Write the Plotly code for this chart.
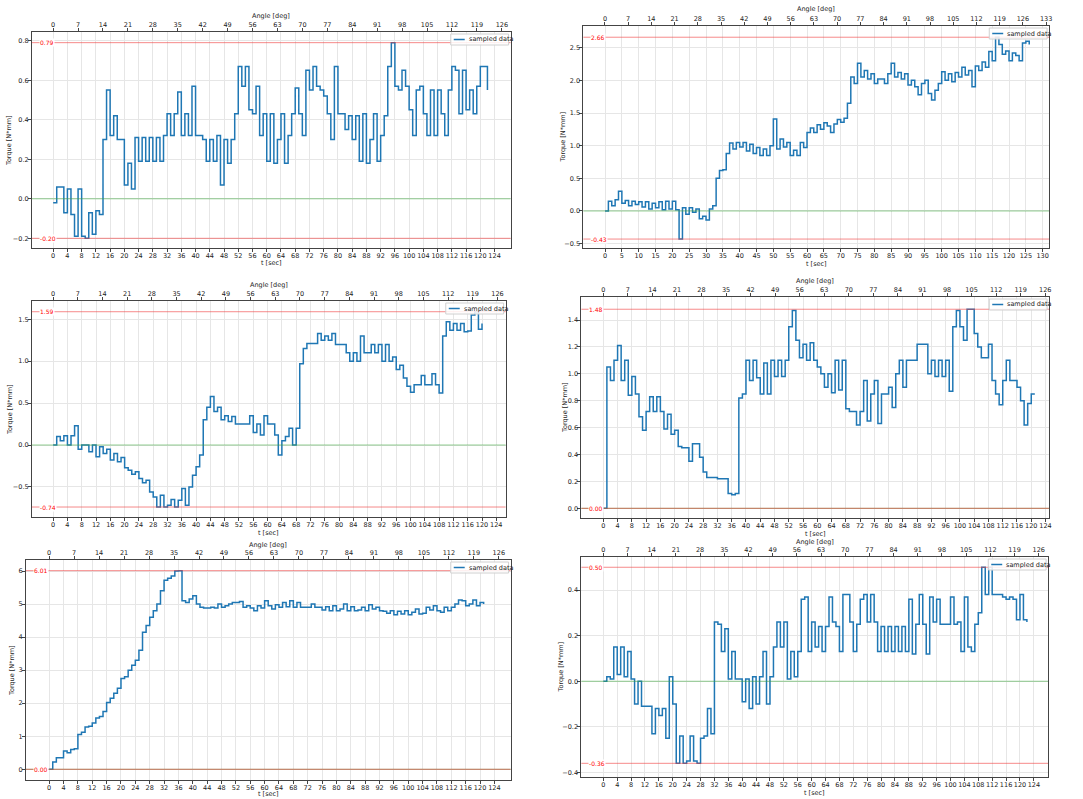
import plotly.graph_objects as go

W, H = 1083, 799

# Torque samples, one per second, for the six test runs
torque_1 = [-0.02, 0.06, 0.06, -0.07, 0.05, -0.08, -0.19, 0.05, -0.19, -0.20,
            -0.07, -0.18, -0.06, -0.08, 0.30, 0.55, 0.32, 0.42, 0.30, 0.30,
            0.07, 0.18, 0.05, 0.31, 0.19, 0.31, 0.19, 0.31, 0.19, 0.31,
            0.19, 0.32, 0.43, 0.32, 0.43, 0.54, 0.32, 0.43, 0.32, 0.57,
            0.32, 0.32, 0.30, 0.19, 0.30, 0.19, 0.32, 0.07, 0.30, 0.18,
            0.30, 0.43, 0.67, 0.57, 0.67, 0.45, 0.43, 0.57, 0.32, 0.43,
            0.19, 0.43, 0.18, 0.30, 0.43, 0.18, 0.32, 0.43, 0.56, 0.43,
            0.32, 0.65, 0.55, 0.67, 0.57, 0.55, 0.52, 0.43, 0.30, 0.67,
            0.43, 0.43, 0.35, 0.42, 0.30, 0.42, 0.19, 0.43, 0.18, 0.30,
            0.43, 0.19, 0.32, 0.42, 0.67, 0.79, 0.57, 0.55, 0.65, 0.57,
            0.45, 0.32, 0.55, 0.57, 0.43, 0.32, 0.55, 0.32, 0.55, 0.43,
            0.32, 0.55, 0.67, 0.65, 0.43, 0.65, 0.45, 0.55, 0.43, 0.57,
            0.67, 0.67, 0.55]

torque_2 = [0.00, 0.15, 0.08, 0.17, 0.30, 0.12, 0.16, 0.08, 0.15, 0.10,
            0.14, 0.06, 0.14, 0.03, 0.12, 0.05, 0.14, 0.02, 0.15, 0.03,
            0.15, 0.02, -0.43, 0.05, -0.05, 0.05, -0.02, 0.03, -0.12, -0.08,
            -0.14, 0.03, 0.08, 0.50, 0.62, 0.63, 0.88, 1.04, 0.95, 1.05,
            0.98, 1.05, 0.92, 1.02, 0.88, 0.97, 0.85, 0.95, 0.85, 1.00,
            1.41, 0.95, 1.10, 0.98, 1.05, 0.85, 0.93, 0.85, 1.05, 0.97,
            1.20, 1.27, 1.20, 1.32, 1.25, 1.35, 1.30, 1.20, 1.33, 1.40,
            1.36, 1.42, 1.65, 2.05, 1.95, 2.26, 2.05, 2.15, 2.02, 2.10,
            1.95, 2.02, 2.02, 1.95, 2.10, 2.26, 2.05, 2.12, 2.02, 2.10,
            1.93, 2.00, 1.90, 1.78, 1.95, 2.00, 1.80, 1.70, 1.85, 1.95,
            2.13, 2.00, 2.10, 1.98, 2.12, 2.05, 2.20, 2.08, 2.15, 1.90,
            2.22, 2.15, 2.28, 2.20, 2.44, 2.30, 2.66, 2.55, 2.40, 2.45,
            2.30, 2.42, 2.38, 2.30, 2.57, 2.60, 2.55]

torque_3 = [0.00, 0.10, 0.05, 0.11, 0.00, 0.11, 0.23, -0.05, 0.00, 0.00,
            -0.08, 0.00, -0.14, -0.02, -0.10, -0.05, -0.18, -0.10, -0.20, -0.15,
            -0.27, -0.30, -0.35, -0.32, -0.40, -0.45, -0.42, -0.56, -0.62, -0.74,
            -0.60, -0.74, -0.72, -0.65, -0.74, -0.66, -0.52, -0.72, -0.50, -0.36,
            -0.26, -0.12, 0.30, 0.45, 0.58, 0.40, 0.45, 0.30, 0.35, 0.28,
            0.34, 0.25, 0.25, 0.25, 0.25, 0.35, 0.15, 0.25, 0.12, 0.35,
            0.25, 0.25, 0.12, -0.12, 0.05, 0.10, 0.20, 0.00, 0.20, 0.97,
            1.15, 1.21, 1.21, 1.21, 1.33, 1.25, 1.30, 1.25, 1.33, 1.20,
            1.20, 1.20, 1.10, 1.00, 1.10, 1.00, 1.30, 1.10, 1.10, 1.20,
            1.10, 1.20, 1.00, 1.20, 1.00, 1.05, 0.90, 0.95, 0.80, 0.70,
            0.63, 0.72, 0.72, 0.83, 0.72, 0.72, 0.85, 0.72, 0.62, 1.30,
            1.47, 1.37, 1.45, 1.37, 1.45, 1.35, 1.36, 1.55, 1.59, 1.38,
            1.45]

torque_4 = [0.00, 1.05, 0.95, 1.10, 1.21, 0.95, 1.10, 0.84, 0.98, 0.85,
            0.68, 0.58, 0.72, 0.83, 0.72, 0.83, 0.72, 0.59, 0.70, 0.55,
            0.58, 0.46, 0.45, 0.45, 0.35, 0.48, 0.48, 0.38, 0.27, 0.23,
            0.23, 0.23, 0.22, 0.22, 0.22, 0.11, 0.10, 0.11, 0.82, 0.85,
            1.10, 0.95, 1.10, 0.97, 0.85, 1.08, 0.85, 1.10, 0.98, 1.10,
            0.98, 1.10, 1.35, 1.47, 1.25, 1.12, 1.22, 1.10, 1.23, 1.10,
            1.05, 1.00, 0.90, 1.00, 0.86, 1.10, 0.88, 1.10, 0.74, 0.72,
            0.72, 0.62, 0.72, 0.95, 0.65, 0.85, 0.95, 0.63, 0.85, 0.85,
            0.90, 0.75, 1.00, 1.10, 0.90, 1.10, 1.10, 1.10, 1.22, 1.22,
            1.22, 1.00, 1.10, 0.98, 1.10, 0.98, 1.10, 0.87, 1.35, 1.47,
            1.35, 1.25, 1.48, 1.48, 1.30, 1.20, 1.12, 1.12, 1.22, 0.95,
            0.85, 0.77, 0.95, 1.10, 0.95, 0.95, 0.90, 0.80, 0.62, 0.78,
            0.85, 0.85]

torque_5 = [0.00, 0.22, 0.35, 0.35, 0.55, 0.50, 0.60, 0.62, 1.05, 1.12,
            1.28, 1.30, 1.40, 1.55, 1.60, 1.75, 2.02, 2.15, 2.30, 2.45,
            2.75, 2.80, 3.00, 3.15, 3.30, 3.60, 4.15, 4.35, 4.60, 4.80,
            5.00, 5.40, 5.72, 5.78, 5.85, 6.00, 6.01, 5.10, 5.05, 5.15,
            5.25, 5.00, 4.90, 4.88, 4.88, 4.90, 4.88, 5.00, 4.90, 4.95,
            5.00, 5.05, 5.05, 5.08, 4.90, 4.95, 4.88, 4.80, 4.95, 4.88,
            5.10, 4.95, 4.85, 4.98, 4.90, 5.05, 4.92, 5.10, 4.90, 5.05,
            4.90, 4.90, 4.90, 5.00, 4.90, 4.90, 4.82, 4.92, 4.80, 4.95,
            4.80, 4.85, 5.00, 4.80, 4.92, 4.80, 4.82, 4.90, 4.80, 4.98,
            4.85, 4.90, 4.80, 4.78, 4.72, 4.80, 4.68, 4.78, 4.70, 4.80,
            4.68, 4.75, 4.85, 4.70, 4.72, 4.90, 4.82, 4.95, 4.80, 4.75,
            4.90, 4.80, 4.90, 5.00, 5.12, 5.10, 4.95, 5.00, 5.12, 4.95,
            5.05, 5.00]

torque_6 = [0.00, 0.02, 0.01, 0.15, 0.03, 0.15, 0.02, 0.13, 0.01, -0.10,
            0.00, -0.11, -0.11, -0.11, -0.23, -0.12, -0.15, -0.12, -0.25, 0.02,
            -0.10, -0.36, -0.24, -0.36, -0.35, -0.24, -0.35, -0.36, -0.25, -0.24,
            -0.12, -0.23, 0.26, 0.25, 0.13, 0.23, 0.01, 0.13, 0.01, 0.01,
            -0.09, 0.01, -0.12, 0.02, -0.10, 0.02, 0.13, -0.10, 0.02, 0.15,
            0.26, 0.15, 0.26, 0.01, 0.13, 0.02, 0.13, 0.36, 0.37, 0.13,
            0.26, 0.15, 0.24, 0.13, 0.24, 0.37, 0.26, 0.24, 0.13, 0.38,
            0.38, 0.26, 0.13, 0.25, 0.36, 0.38, 0.26, 0.38, 0.26, 0.13,
            0.24, 0.13, 0.24, 0.13, 0.24, 0.13, 0.24, 0.13, 0.36, 0.12,
            0.25, 0.38, 0.25, 0.12, 0.37, 0.26, 0.36, 0.25, 0.25, 0.25,
            0.37, 0.25, 0.26, 0.13, 0.37, 0.15, 0.13, 0.25, 0.30, 0.50,
            0.38, 0.50, 0.38, 0.38, 0.38, 0.37, 0.36, 0.37, 0.36, 0.27,
            0.38, 0.27, 0.26]

# Per-panel axis setup (frame in page pixels: left, right, top, bottom)
panels = [
    dict(y=torque_1, frame=(32, 512, 32, 248), xr=(-5.97, 128.5), ar=(-5.95, 128.45),
         yr=(-0.249, 0.844), dy=0.2, fmt=".1f", dx=4, xmax=124, amax=126,
         ang_y=16, t_y=263, tq_x=9),
    dict(y=torque_2, frame=(585, 1052, 26, 248), xr=(-6.43, 131.9), ar=(-6.5, 133.9),
         yr=(-0.567, 2.832), dy=0.5, fmt=".1f", dx=5, xmax=130, amax=133,
         ang_y=9, t_y=264, tq_x=565),
    dict(y=torque_3, frame=(32, 507, 301, 517), xr=(-5.94, 126.6), ar=(-6.0, 128.3),
         yr=(-0.859, 1.718), dy=0.5, fmt=".1f", dx=4, xmax=124, amax=126,
         ang_y=285, t_y=533, tq_x=10),
    dict(y=torque_4, frame=(583, 1052, 297, 518), xr=(-6.15, 125.0), ar=(-6.25, 127.1),
         yr=(-0.072, 1.571), dy=0.2, fmt=".1f", dx=4, xmax=124, amax=126,
         ang_y=281, t_y=534, tq_x=566),
    dict(y=torque_5, frame=(26, 512, 560, 780), xr=(-6.47, 128.5), ar=(-6.5, 129.3),
         yr=(-0.324, 6.333), dy=1, fmt="d", dx=4, xmax=124, amax=126,
         ang_y=545, t_y=794, tq_x=12),
    dict(y=torque_6, frame=(583, 1051, 557, 777), xr=(-6.32, 128.1), ar=(-6.35, 128.7),
         yr=(-0.42, 0.545), dy=0.2, fmt=".1f", dx=4, xmax=124, amax=126,
         ang_y=542, t_y=793, tq_x=563),
]

FONT = "DejaVu Sans"
BLUE = "#1f77b4"
FRAME = "#444444"
GRID = "#e6e6e6"
TXT = "#222222"

fig = go.Figure()
layout = dict(width=W, height=H, margin=dict(l=0, r=0, t=0, b=0),
              paper_bgcolor="white", plot_bgcolor="white", autosize=False,
              showlegend=False, font=dict(family=FONT, size=7, color=TXT))
shapes, annotations = [], []


def px_x(p):
    return p / W


def px_y(p):
    return 1 - p / H


def ax_ref(letter, n):
    return letter if n == 1 else f"{letter}{n}"


def ax_key(letter, n):
    return f"{letter}axis" if n == 1 else f"{letter}axis{n}"


for k, p in enumerate(panels, start=1):
    xb, yk, xt = ax_ref("x", k), ax_ref("y", k), ax_ref("x", k + 6)
    axb, ayk, axt = ax_key("x", k), ax_key("y", k), ax_key("x", k + 6)
    l, r, t, b = p["frame"]
    dom_x = [px_x(l), px_x(r)]
    dom_y = [px_y(b), px_y(t)]
    vals = p["y"]
    secs = list(range(len(vals)))

    # sampled torque, held between samples
    fig.add_trace(go.Scatter(x=secs, y=vals, mode="lines", name="sampled data",
                             line=dict(color=BLUE, width=1.5, shape="hv"),
                             xaxis=xb, yaxis=yk))
    # same samples bound to the angle axis so that the top scale is rendered
    fig.add_trace(go.Scatter(x=secs, y=vals, mode="lines", name="angle scale",
                             line=dict(color="rgba(0,0,0,0)", width=0), opacity=0,
                             hoverinfo="skip", xaxis=xt, yaxis=yk))

    common = dict(showline=True, linecolor=FRAME, linewidth=1, ticks="outside",
                  ticklen=3, tickwidth=0.8, tickcolor=FRAME, zeroline=False,
                  tickangle=0, ticklabelstandoff=-2,
                  tickfont=dict(family=FONT, size=6.5, color=TXT))
    layout[axb] = dict(common, domain=dom_x, anchor=yk, range=list(p["xr"]),
                       tickmode="array", tickvals=list(range(0, p["xmax"] + 1, p["dx"])),
                       showgrid=True, gridcolor=GRID, gridwidth=0.8, mirror=False)
    layout[axt] = dict(common, domain=dom_x, anchor=yk, overlaying=xb, side="top",
                       range=list(p["ar"]), tickmode="array", showgrid=False,
                       tickvals=list(range(0, p["amax"] + 1, 7)),
                       ticktext=[str(v) for v in range(0, p["amax"] + 1, 7)])
    layout[ayk] = dict(common, domain=dom_y, anchor=xb, range=list(p["yr"]),
                       dtick=p["dy"], tick0=0, tickformat=p["fmt"], mirror=True,
                       showgrid=True, gridcolor=GRID, gridwidth=0.8)

    # reference levels: zero, maximum and minimum of the run
    ymax, ymin = max(vals), min(vals)
    shapes.append(dict(type="line", xref=f"{xb} domain", yref=yk, x0=0, x1=1,
                       y0=0, y1=0, line=dict(color="rgba(60,170,60,0.55)", width=1)))
    for lvl in (ymax, ymin):
        shapes.append(dict(type="line", xref=f"{xb} domain", yref=yk, x0=0, x1=1,
                           y0=lvl, y1=lvl, line=dict(color="rgba(240,60,60,0.6)", width=1)))
        annotations.append(dict(x=0.014, xref=f"{xb} domain", y=lvl, yref=yk,
                                text=f"{lvl:.2f}", showarrow=False, xanchor="left",
                                yanchor="middle", bgcolor="white", borderpad=0,
                                font=dict(family=FONT, size=6, color="red")))

    # legend box in the upper right corner
    bx1, by0 = r - 2, t + 2
    bx0, by1 = bx1 - 58, by0 + 11
    shapes.append(dict(type="rect", xref="paper", yref="paper",
                       x0=px_x(bx0), x1=px_x(bx1), y0=px_y(by1), y1=px_y(by0),
                       fillcolor="rgba(255,255,255,0.85)",
                       line=dict(color="#d0d0d0", width=1)))
    shapes.append(dict(type="line", xref="paper", yref="paper",
                       x0=px_x(bx0 + 3), x1=px_x(bx0 + 14),
                       y0=px_y((by0 + by1) / 2), y1=px_y((by0 + by1) / 2),
                       line=dict(color=BLUE, width=1.5)))
    annotations.append(dict(x=px_x(bx0 + 16), y=px_y((by0 + by1) / 2), xref="paper",
                            yref="paper", text="sampled data", showarrow=False,
                            xanchor="left", yanchor="middle",
                            font=dict(family=FONT, size=6.5, color=TXT)))

    cx = (l + r) / 2
    annotations.append(dict(x=px_x(cx), y=px_y(p["ang_y"]), xref="paper", yref="paper",
                            text="Angle [deg]", showarrow=False, xanchor="center",
                            yanchor="middle", font=dict(family=FONT, size=6.5, color=TXT)))
    annotations.append(dict(x=px_x(cx), y=px_y(p["t_y"]), xref="paper", yref="paper",
                            text="t [sec]", showarrow=False, xanchor="center",
                            yanchor="middle", font=dict(family=FONT, size=6.5, color=TXT)))
    annotations.append(dict(x=px_x(p["tq_x"]), y=px_y((t + b) / 2), xref="paper",
                            yref="paper", text="Torque [N*mm]", showarrow=False,
                            textangle=-90, xanchor="center", yanchor="middle",
                            font=dict(family=FONT, size=6.5, color=TXT)))

layout["shapes"] = shapes
layout["annotations"] = annotations
fig.update_layout(**layout)
fig.write_html("out.html")
